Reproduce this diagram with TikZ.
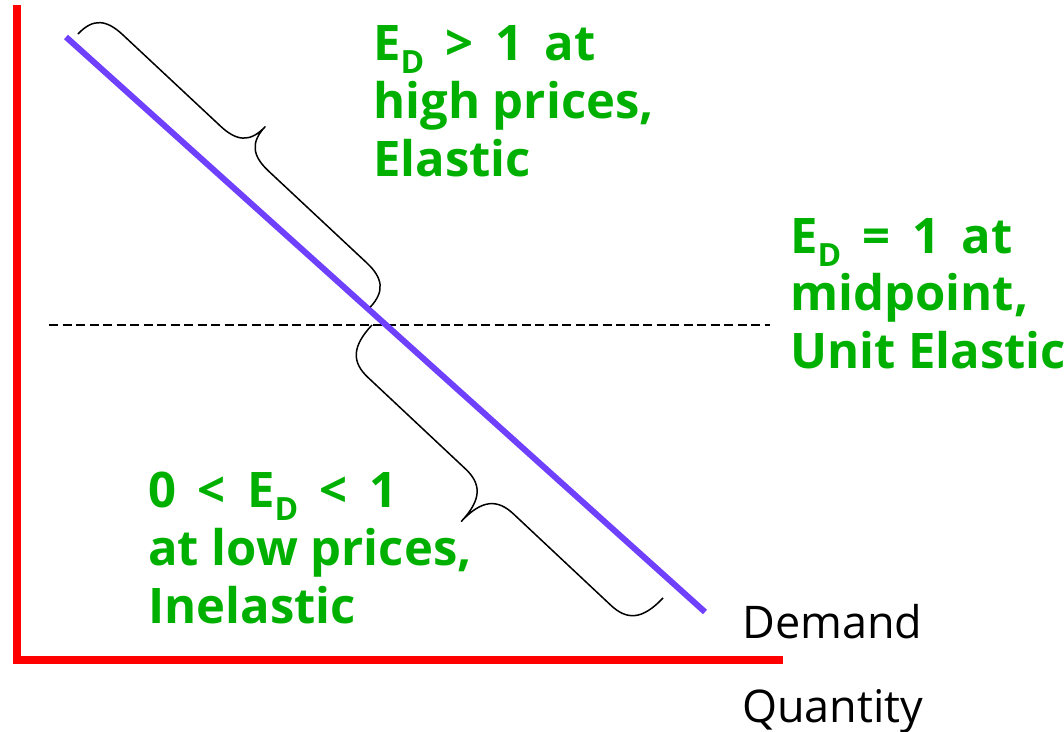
\documentclass[tikz,border=0pt]{standalone}
\usepackage{fontspec}
\setmainfont{Open Sans}
\definecolor{axisred}{RGB}{255,0,0}
\definecolor{demandblue}{RGB}{112,64,255}
\definecolor{labgreen}{RGB}{0,176,0}
\newcommand{\Dsub}{\raisebox{-13pt}{\fontsize{32}{32}\selectfont D}}
\newcommand{\gp}{\hspace{0.44em}}
% curly brace in local coordinates: length #1, half-amplitude #2, curl length #3
\newcommand{\bracepath}[3]{(0,0) .. controls (0,{0.75*#2}) and ({0.35*#3},{#2}) .. ({#3},{#2}) -- ({#1/2-#3},{#2}) .. controls ({#1/2-0.35*#3},{#2}) and ({#1/2},{1.25*#2}) .. ({#1/2},{2*#2}) .. controls ({#1/2},{1.25*#2}) and ({#1/2+0.35*#3},{#2}) .. ({#1/2+#3},{#2}) -- ({#1-#3},{#2}) .. controls ({#1-0.35*#3},{#2}) and ({#1},{0.75*#2}) .. ({#1},0)}
\begin{document}
\begin{tikzpicture}[x=1pt,y=-1pt,
  lab/.style={anchor=base west, inner sep=0pt, text=labgreen, font=\fontsize{49}{58}\selectfont\bfseries},
  axlab/.style={anchor=base west, inner sep=0pt, text=black, font=\fontsize{45}{54}\selectfont},
  axis/.style={draw=axisred, line width=7.5pt, line join=miter},
  demand/.style={draw=demandblue, line width=6pt},
  guide/.style={draw=black, line width=1.4pt, dash pattern=on 9pt off 4.5pt},
  bracestyle/.style={draw=black, line width=1.5pt, line join=round}]
\useasboundingbox (0,0) rectangle (1064,731);
% axes
\coordinate (ytop) at (17,5);
\coordinate (orig) at (17,660);
\coordinate (xend) at (783,660);
\draw[axis] (ytop) -- (orig) -- (xend);
% dashed midpoint line
\coordinate (dl) at (49,325);
\coordinate (dr) at (770,325);
\draw[guide] (dl) -- (dr);
% demand curve
\coordinate (dtop) at (66,37);
\coordinate (dbot) at (705,612);
\draw[demand] (dtop) -- (dbot);
% braces
\coordinate (b1s) at (78,34);
\coordinate (b2s) at (372,325);
\begin{scope}[shift={(b1s)}, rotate=-43.07]
  \draw[bracestyle] \bracepath{400}{-30}{33};
\end{scope}
\begin{scope}[shift={(b2s)}, rotate=-43.17]
  \draw[bracestyle] \bracepath{399}{41}{33};
\end{scope}
% labels
\node[lab] (hi1) at (373,60) {E\Dsub\gp>\gp1\gp at};
\node[lab] (hi2) at (373,118) {high prices,};
\node[lab] (hi3) at (373,176) {Elastic};
\node[lab] (mid1) at (790,253) {E\Dsub\gp=\gp1\gp at};
\node[lab] (mid2) at (790,310) {midpoint,};
\node[lab] (mid3) at (790,368) {Unit Elastic};
\node[lab] (lo1) at (148,507) {0\gp<\gp E\Dsub\gp<\gp1};
\node[lab] (lo2) at (148,565) {at low prices,};
\node[lab] (lo3) at (148,623) {Inelastic};
\node[axlab] (dem) at (742,638) {Demand};
\node[axlab] (qty) at (742,722) {Quantity};
\end{tikzpicture}
\end{document}
